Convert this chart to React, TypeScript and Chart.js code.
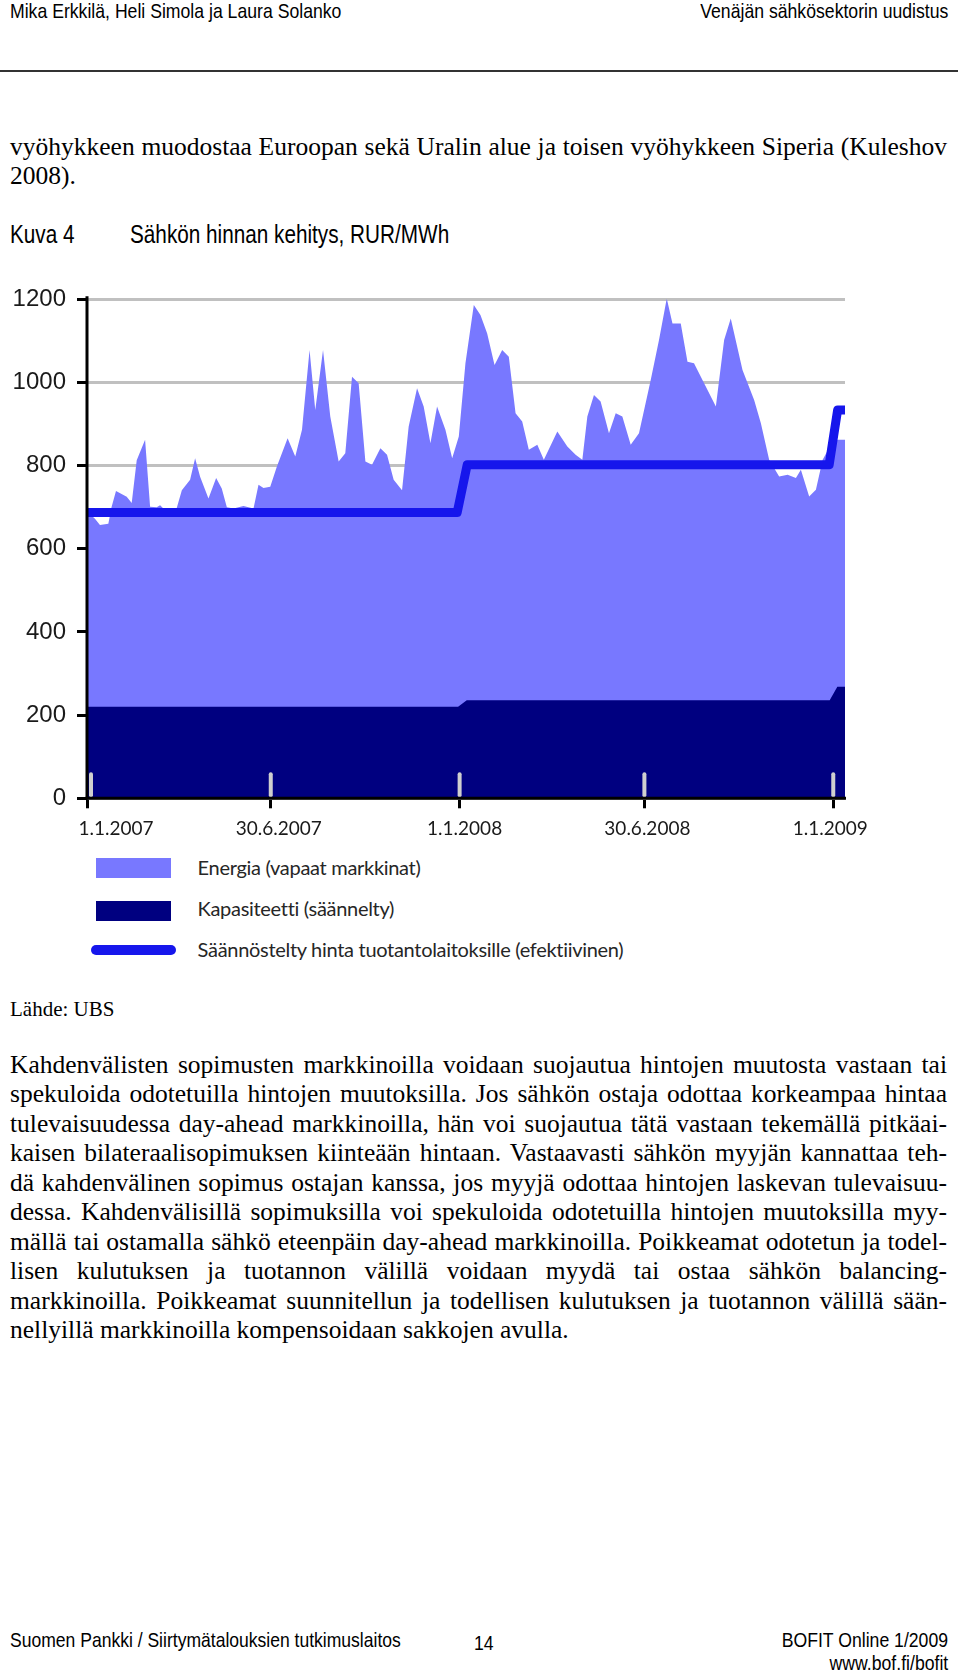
import React, { useEffect, useRef } from "react";
import { Chart, registerables } from "chart.js";

Chart.register(...registerables);

// ---------- chart data ----------
// x positions are days counted from 1.1.2007
const energyDays = [0, 7.8, 12.7, 20.9, 24, 28.4, 38.9, 43.8, 48.7, 56.9, 61.8, 68.3, 71.6, 74.8, 87.9, 92.9, 101, 105.9, 110.8, 119, 126.5, 132, 137, 143.5, 153.3, 163.1, 168, 172.9, 179.5, 186, 196.5, 204, 210.6, 218, 223.6, 231.2, 238.3, 246.5, 253, 259.6, 266.1, 272.7, 279.2, 287.4, 293.9, 300.4, 308.6, 315.1, 323.3, 329.8, 336.4, 342.9, 351.1, 357.7, 364.2, 370.7, 378.9, 385.4, 392, 399.2, 406.7, 413.2, 419.8, 426.3, 432.8, 441.1, 447.5, 460.7, 470.5, 478.6, 485.2, 490.1, 496.6, 503.1, 511.3, 517.9, 524.4, 532.6, 540.7, 552.2, 560.3, 567.9, 573.5, 581.6, 588.2, 594.6, 604.5, 616, 624.1, 630.6, 642.1, 653.5, 660.1, 668.2, 678, 686.3, 694.4, 699.3, 707.4, 714, 720.6, 728.7, 735.3, 742.5];
const energyValues = [690, 672, 657, 660, 700, 739, 725, 710, 813, 862, 701, 700, 705, 697, 698, 741, 766, 818, 773, 721, 770, 745, 700, 697, 703, 697, 754, 746, 749, 798, 866, 822, 886, 1078, 934, 1078, 918, 810, 830, 1014, 998, 810, 802, 842, 826, 766, 741, 894, 986, 942, 854, 942, 886, 818, 870, 1046, 1186, 1162, 1118, 1042, 1078, 1062, 926, 906, 838, 850, 814, 882, 846, 826, 814, 918, 970, 954, 878, 926, 918, 850, 878, 1006, 1102, 1202, 1142, 1142, 1050, 1046, 998, 942, 1102, 1154, 1030, 958, 902, 814, 774, 778, 770, 790, 726, 742, 814, 850, 862, 862];

const capacityDays = [0, 363.5, 372, 727.5, 735, 742.5];
const capacityValues = [220, 220, 236, 236, 268, 268];

const regulatedDays = [0, 362.6, 372.4, 727, 735.3, 742.5];
const regulatedValues = [687, 687, 802, 802, 934, 934];

const xTickDays = [0, 180, 365, 546, 731];
const xTickLabels = ["1.1.2007", "30.6.2007", "1.1.2008", "30.6.2008", "1.1.2009"];
const xLabelNudge = [29, 8, 5, 3, -3];

const seriesLabels = [
  "Energia (vapaat markkinat)",
  "Kapasiteetti (säännelty)",
  "Säännöstelty hinta tuotantolaitoksille (efektiivinen)",
];
const seriesColors = ["#7878FF", "#000080", "#1616EC"];

// ---------- page text ----------
const headerLeft = "Mika Erkkilä, Heli Simola ja Laura Solanko";
const headerRight = "Venäjän sähkösektorin uudistus";
const para0Lines = [
  "vyöhykkeen muodostaa Euroopan sekä Uralin alue ja toisen vyöhykkeen Siperia (Kuleshov",
  "2008).",
];
const captionNo = "Kuva 4";
const captionText = "Sähkön hinnan kehitys, RUR/MWh";
const sourceText = "Lähde: UBS";
const para1Lines = [
  "Kahdenvälisten sopimusten markkinoilla voidaan suojautua hintojen muutosta vastaan tai",
  "spekuloida odotetuilla hintojen muutoksilla. Jos sähkön ostaja odottaa korkeampaa hintaa",
  "tulevaisuudessa day-ahead markkinoilla, hän voi suojautua tätä vastaan tekemällä pitkäai-",
  "kaisen bilateraalisopimuksen kiinteään hintaan. Vastaavasti sähkön myyjän kannattaa teh-",
  "dä kahdenvälinen sopimus ostajan kanssa, jos myyjä odottaa hintojen laskevan tulevaisuu-",
  "dessa. Kahdenvälisillä sopimuksilla voi spekuloida odotetuilla hintojen muutoksilla myy-",
  "mällä tai ostamalla sähkö eteenpäin day-ahead markkinoilla. Poikkeamat odotetun ja todel-",
  "lisen kulutuksen ja tuotannon välillä voidaan myydä tai ostaa sähkön balancing-",
  "markkinoilla. Poikkeamat suunnitellun ja todellisen kulutuksen ja tuotannon välillä sään-",
  "nellyillä markkinoilla kompensoidaan sakkojen avulla.",
];
const footerLeft = "Suomen Pankki / Siirtymätalouksien tutkimuslaitos";
const footerPage = "14";
const footerRight1 = "BOFIT Online 1/2009";
const footerRight2 = "www.bof.fi/bofit";

const axisOverlay = {
  id: "axisOverlay",
  afterDatasetsDraw(chart: any) {
    const { ctx, chartArea } = chart;
    const xs = chart.scales.x;
    ctx.save();
    // light stubs above the x axis
    ctx.strokeStyle = "#cfcfcf";
    ctx.lineWidth = 4;
    ctx.lineCap = "round";
    xTickDays.forEach((d) => {
      const px = Math.max(xs.getPixelForValue(d), chartArea.left + 4);
      ctx.beginPath();
      ctx.moveTo(px, chartArea.bottom - 24);
      ctx.lineTo(px, chartArea.bottom - 3);
      ctx.stroke();
    });
    // axis lines on top of the areas
    ctx.strokeStyle = "#000";
    ctx.lineWidth = 3;
    ctx.lineCap = "butt";
    ctx.beginPath();
    ctx.moveTo(chartArea.left, chartArea.top - 3);
    ctx.lineTo(chartArea.left, chartArea.bottom + 1.5);
    ctx.stroke();
    ctx.beginPath();
    ctx.moveTo(chartArea.left - 1.5, chartArea.bottom);
    ctx.lineTo(chartArea.right + 1, chartArea.bottom);
    ctx.stroke();
    // x tick labels
    ctx.fillStyle = "#1a1a1a";
    ctx.font = "19px Lato";
    ctx.textAlign = "center";
    ctx.textBaseline = "alphabetic";
    xTickDays.forEach((d, i) => {
      const px = xs.getPixelForValue(d) + xLabelNudge[i];
      ctx.fillText(xTickLabels[i], px, chartArea.bottom + 37);
    });
    ctx.restore();
  },
};

const toPoints = (days: number[], vals: number[]) => days.map((d, i) => ({ x: d, y: vals[i] }));

const narrowFont = '"Liberation Sans", Arial, sans-serif';
const serifFont = '"Liberation Serif", "Times New Roman", serif';

export default function App() {
  const ref = useRef<HTMLCanvasElement>(null);

  useEffect(() => {
    document.body.style.margin = "0";
    document.body.style.overflow = "hidden";
    const chart = new Chart(ref.current as HTMLCanvasElement, {
      type: "line",
      data: {
        datasets: [
          {
            label: seriesLabels[0],
            data: toPoints(energyDays, energyValues),
            fill: "origin",
            backgroundColor: seriesColors[0],
            borderColor: "transparent",
            borderWidth: 0,
            pointRadius: 0,
            order: 3,
          },
          {
            label: seriesLabels[1],
            data: toPoints(capacityDays, capacityValues),
            fill: "origin",
            backgroundColor: seriesColors[1],
            borderColor: "transparent",
            borderWidth: 0,
            pointRadius: 0,
            order: 2,
          },
          {
            label: seriesLabels[2],
            data: toPoints(regulatedDays, regulatedValues),
            fill: false,
            borderColor: seriesColors[2],
            borderWidth: 9,
            borderCapStyle: "round",
            borderJoinStyle: "round",
            pointRadius: 0,
            order: 1,
          },
        ] as any,
      },
      options: {
        responsive: false,
        animation: false,
        devicePixelRatio: 1,
        layout: { padding: { top: 29.3, right: 115, left: 0, bottom: 0 } },
        plugins: { legend: { display: false }, tooltip: { enabled: false } },
        elements: { line: { tension: 0 } },
        scales: {
          x: {
            type: "linear",
            min: 0,
            max: 742.5,
            afterBuildTicks: (s: any) => {
              s.ticks = xTickDays.map((v) => ({ value: v }));
            },
            afterFit: (s: any) => {
              s.height = 51.7;
            },
            ticks: { display: false },
            grid: { drawOnChartArea: false, drawTicks: true, tickLength: 10, tickColor: "#000", tickWidth: 3 },
            border: { display: false },
          },
          y: {
            min: 0,
            max: 1200,
            afterFit: (s: any) => {
              s.width = 87;
            },
            ticks: {
              stepSize: 200,
              padding: 11,
              color: "#1a1a1a",
              font: { family: narrowFont, size: 24 },
              callback: (v: any) => String(v),
            },
            grid: { color: "#c0c0c0", lineWidth: 3, tickColor: "#000", tickLength: 10, tickWidth: 3 },
            border: { display: false },
          },
        },
      } as any,
      plugins: [axisOverlay],
    });
    return () => chart.destroy();
  }, []);

  const narrowLeft = (text: string, left: number, top: number, size: number, lh: number, sx = 0.84) => (
    <div
      style={{
        position: "absolute",
        left,
        top,
        fontFamily: narrowFont,
        fontSize: size,
        lineHeight: lh + "px",
        whiteSpace: "nowrap",
        transform: `scaleX(${sx})`,
        transformOrigin: "left top",
        color: "#000",
      }}
    >
      {text}
    </div>
  );
  const narrowRight = (text: string, right: number, top: number, size: number, lh: number) => (
    <div
      style={{
        position: "absolute",
        right,
        top,
        fontFamily: narrowFont,
        fontSize: size,
        lineHeight: lh + "px",
        whiteSpace: "nowrap",
        transform: "scaleX(0.84)",
        transformOrigin: "right top",
        color: "#000",
      }}
    >
      {text}
    </div>
  );
  const justLines = (lines: string[], top: number) =>
    lines.map((l, i) => (
      <div
        key={top + "-" + i}
        style={{
          position: "absolute",
          left: 10,
          top: top + i * 29.5,
          width: 937,
          fontFamily: serifFont,
          fontSize: 25.5,
          lineHeight: "29.5px",
          whiteSpace: "nowrap",
          textAlign: "justify",
          textAlignLast: i === lines.length - 1 ? "left" : "justify",
          color: "#000",
        } as any}
      >
        {l}
      </div>
    ));

  const legendTops = [854.5, 896, 936.8];

  return (
    <div
      style={{
        position: "absolute",
        left: 0,
        top: 0,
        width: 960,
        height: 1674,
        overflow: "hidden",
        background: "#fff",
      }}
    >
      {narrowLeft(headerLeft, 10, -1, 21, 24)}
      {narrowRight(headerRight, 12, -1, 21, 24)}
      <div style={{ position: "absolute", left: 0, top: 69.5, width: 958, height: 2, background: "#333" }} />

      {justLines(para0Lines, 131.6)}

      {narrowLeft(captionNo, 10, 218.5, 25.6, 30, 0.81)}
      {narrowLeft(captionText, 130, 218.5, 25.6, 30, 0.81)}

      <canvas
        ref={ref}
        width={960}
        height={580}
        style={{ position: "absolute", left: 0, top: 270, width: 960, height: 580 }}
      />

      {/* legend */}
      <div style={{ position: "absolute", left: 96, top: 857.5, width: 75, height: 20.5, background: seriesColors[0] }} />
      <div style={{ position: "absolute", left: 96, top: 901, width: 75, height: 19.5, background: seriesColors[1] }} />
      <div
        style={{ position: "absolute", left: 91, top: 944.5, width: 85, height: 10, borderRadius: 5, background: seriesColors[2] }}
      />
      {seriesLabels.map((t, i) => (
        <div
          key={t}
          style={{
            position: "absolute",
            left: 197.6,
            top: legendTops[i],
            fontFamily: "Lato, sans-serif",
            fontSize: 20,
            lineHeight: "24px",
            letterSpacing: "-0.3px",
            whiteSpace: "nowrap",
            color: "#262626",
          }}
        >
          {t}
        </div>
      ))}

      <div
        style={{
          position: "absolute",
          left: 10,
          top: 996.5,
          fontFamily: serifFont,
          fontSize: 21,
          lineHeight: "24px",
          whiteSpace: "nowrap",
          color: "#000",
        }}
      >
        {sourceText}
      </div>

      {justLines(para1Lines, 1049.6)}

      {narrowLeft(footerLeft, 10, 1627.7, 21, 24, 0.835)}
      {narrowLeft(footerPage, 474, 1630.5, 21, 24)}
      {narrowRight(footerRight1, 12, 1627.7, 21, 24)}
      {narrowRight(footerRight2, 12, 1650.7, 21, 24)}
    </div>
  );
}
